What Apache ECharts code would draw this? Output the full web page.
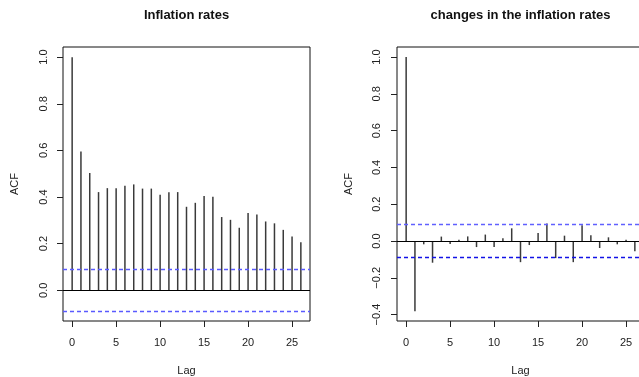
<!DOCTYPE html>
<html>
<head>
<meta charset="utf-8">
<script src="https://cdn.jsdelivr.net/npm/echarts@6/dist/echarts.min.js"></script>
<style>
html,body{margin:0;padding:0;background:#fff;overflow:hidden;}
#chart{width:639px;height:377px;}
</style>
</head>
<body>
<div id="chart"></div>
<script>
// ---- data ----
const titles = ["Inflation rates", "changes in the inflation rates"];
const lags = [0,1,2,3,4,5,6,7,8,9,10,11,12,13,14,15,16,17,18,19,20,21,22,23,24,25,26];
const acfInflation = [1.000,0.595,0.503,0.421,0.438,0.437,0.448,0.454,0.436,0.436,0.410,0.420,0.421,0.358,0.375,0.404,0.401,0.314,0.302,0.268,0.331,0.325,0.295,0.287,0.259,0.231,0.206];
const acfChanges = [1.000,-0.382,-0.018,-0.118,0.024,-0.016,0.007,0.025,-0.033,0.035,-0.033,0.015,0.069,-0.115,-0.022,0.044,0.095,-0.093,0.029,-0.115,0.086,0.031,-0.038,0.020,-0.018,0.007,-0.056];
const ciBound = 0.0886;
const xTicks = [0,5,10,15,20,25];
const yTicksLeft = [0,0.2,0.4,0.6,0.8,1.0];
const yTicksRight = [-0.4,-0.2,0,0.2,0.4,0.6,0.8,1.0];
const xRange = [-1.04, 27.04];
const yRangeLeft = [-0.132, 1.0435];
const yRangeRight = [-0.435, 1.055];

const FONT = "'Liberation Sans', Arial, Helvetica, sans-serif";
const chart = echarts.init(document.getElementById('chart'), null, {renderer:'canvas'});

const grids = [
  {left:63, top:47, width:247, height:274},
  {left:397, top:47, width:247, height:274}
];

function fmt(v){ return v.toFixed(1).replace('-', '\u2212'); }

function xAxis(i){
  return {
    type:'value', gridIndex:i, min:xRange[0], max:xRange[1],
    name:'Lag', nameLocation:'middle', nameGap:44,
    nameTextStyle:{fontFamily:FONT, fontSize:11, color:'#222'},
    axisLine:{show:false, onZero:false},
    splitLine:{show:false},
    axisTick:{show:true, length:6, customValues:xTicks, lineStyle:{color:'#222', width:1}},
    axisLabel:{customValues:xTicks, margin:16, fontFamily:FONT, fontSize:11, color:'#222',
      formatter:v=>String(Math.round(v))}
  };
}
function yAxis(i, range, ticks, gap, margin){
  return {
    type:'value', gridIndex:i, min:range[0], max:range[1],
    name:'ACF', nameLocation:'middle', nameGap:gap, nameRotate:90,
    nameTextStyle:{fontFamily:FONT, fontSize:11, color:'#222'},
    axisLine:{show:false, onZero:false},
    splitLine:{show:false},
    axisTick:{show:true, length:6, customValues:ticks, lineStyle:{color:'#222', width:1}},
    axisLabel:{customValues:ticks, rotate:90, margin:margin, fontFamily:FONT, fontSize:11, color:'#222',
      formatter:fmt}
  };
}

function spikeSeries(i, vals, upColor, lowColor){
  return {
    type:'bar', xAxisIndex:i, yAxisIndex:i,
    data: lags.map((l,k)=>[l, vals[k]]),
    barWidth:1.5,
    itemStyle:{color:'#3a3a3a'},
    silent:true,
    animation:false,
    markLine:{
      silent:true, symbol:['none','none'], animation:false,
      label:{show:false},
      lineStyle:{width:1.2, type:[4,3], color:upColor},
      data:[
        {yAxis:0, lineStyle:{color:'#000000', type:'solid', width:1}},
        {yAxis:ciBound, lineStyle:{color:upColor, type:[4,3], width:1.3}},
        {yAxis:-ciBound, lineStyle:{color:lowColor, type:[4,3], width:1.3}}
      ]
    }
  };
}

const option = {
  backgroundColor:'#fff',
  animation:false,
  grid: grids.map(g=>Object.assign({show:true, borderColor:'#111', borderWidth:1, backgroundColor:'transparent', containLabel:false, outerBoundsMode:'none'}, g)),
  xAxis:[xAxis(0), xAxis(1)],
  yAxis:[yAxis(0, yRangeLeft, yTicksLeft, 43, 14), yAxis(1, yRangeRight, yTicksRight, 43, 15)],
  series:[
    spikeSeries(0, acfInflation, '#5a5aff', '#5a5aff'),
    spikeSeries(1, acfChanges, '#6060ff', '#1212e6')
  ],
  graphic:[
    {type:'text', silent:true,
     style:{text:titles[0], x:186.5, y:15, textAlign:'center', textVerticalAlign:'middle', font:'bold 13px '+FONT, fill:'#111'}},
    {type:'text', silent:true,
     style:{text:titles[1], x:520.5, y:15, textAlign:'center', textVerticalAlign:'middle', font:'bold 13px '+FONT, fill:'#111'}}
  ]
};
chart.setOption(option);
</script>
</body>
</html>
